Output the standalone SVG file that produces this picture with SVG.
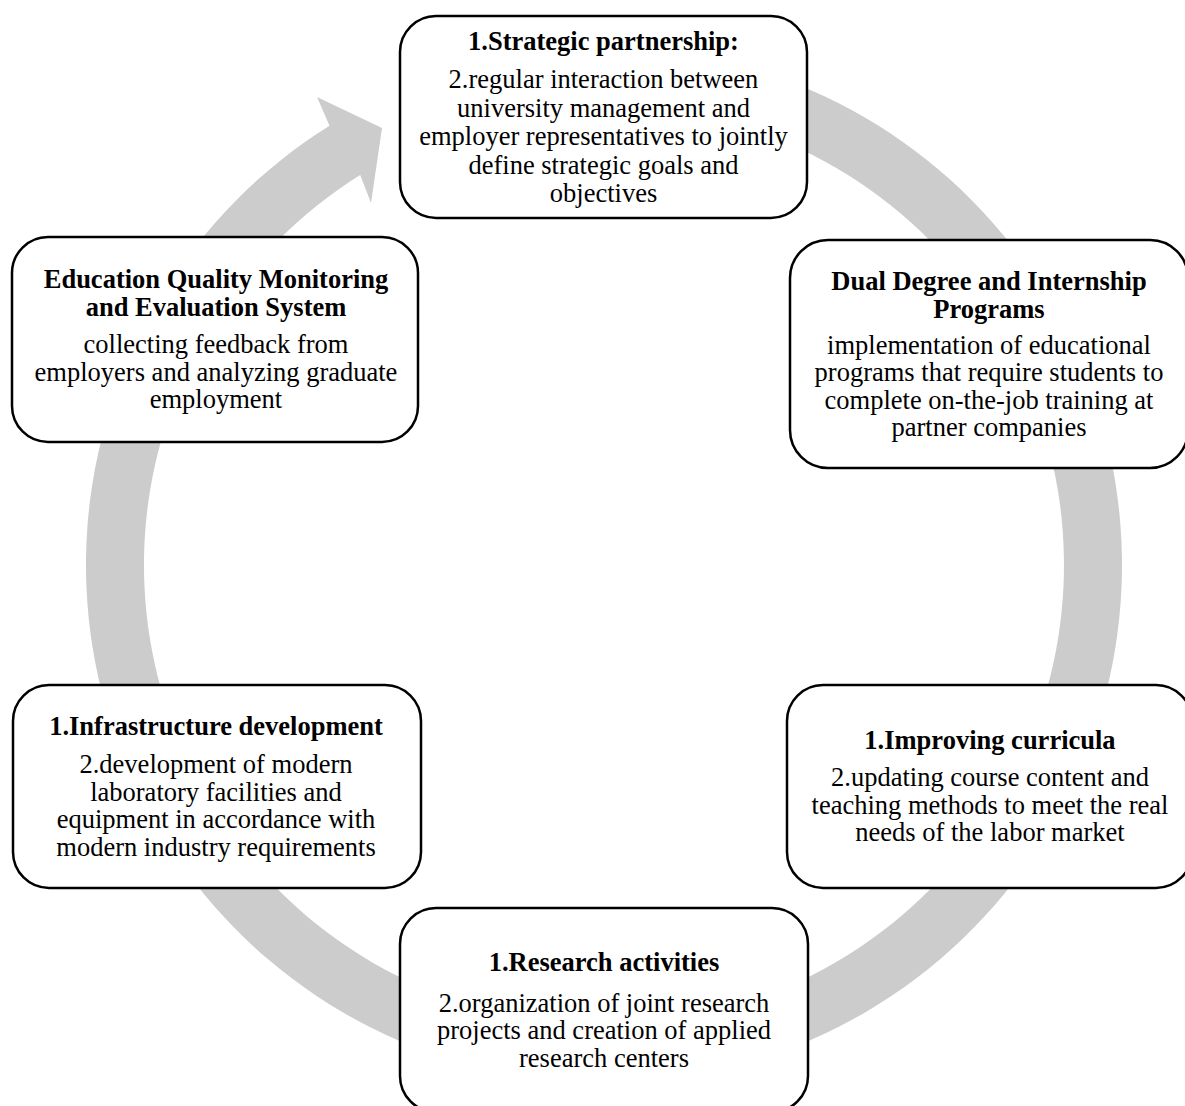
<svg xmlns="http://www.w3.org/2000/svg" width="1185" height="1106" viewBox="0 0 1185 1106">
  <style>
    .box { fill: #ffffff; stroke: #000000; stroke-width: 2.5; }
    .ring { fill: #cccccc; stroke: none; }
    text { font-family: "Liberation Serif", "Times New Roman", serif; font-size: 26.5px; fill: #000000; text-anchor: middle; }
    .title { font-weight: bold; }
  </style>
  <rect width="1185" height="1106" fill="#ffffff"/>

  <!-- circular flow arrow running clockwise behind the boxes -->
  <g id="connectors">
    <path class="ring" d="M 649.15 48.97 A 518 518 0 1 1 329.5 125.7 L 317 97 L 382 128 L 371 203 L 360.2 174.9 A 460 460 0 1 0 644.09 106.75 Z"/>
  </g>

  <g id="node-strategic">
    <rect class="box" x="400" y="16" width="407" height="202" rx="36" ry="36"/>
    <text class="title" x="603.5" y="50">1.Strategic partnership:</text>
    <text x="603.5" y="88">2.regular interaction between</text>
    <text x="603.5" y="116.5">university management and</text>
    <text x="603.5" y="145">employer representatives to jointly</text>
    <text x="603.5" y="173.5">define strategic goals and</text>
    <text x="603.5" y="202">objectives</text>
  </g>

  <g id="node-dual-degree">
    <rect class="box" x="790" y="240" width="398" height="228" rx="38" ry="38"/>
    <text class="title" x="989" y="290">Dual Degree and Internship</text>
    <text class="title" x="989" y="317.5">Programs</text>
    <text x="989" y="353.5">implementation of educational</text>
    <text x="989" y="381">programs that require students to</text>
    <text x="989" y="408.5">complete on-the-job training at</text>
    <text x="989" y="436">partner companies</text>
  </g>

  <g id="node-curricula">
    <rect class="box" x="787" y="685" width="405" height="203" rx="36" ry="36"/>
    <text class="title" x="990" y="749">1.Improving curricula</text>
    <text x="990" y="786">2.updating course content and</text>
    <text x="990" y="813.5">teaching methods to meet the real</text>
    <text x="990" y="841">needs of the labor market</text>
  </g>

  <g id="node-research">
    <rect class="box" x="400" y="908" width="408" height="204" rx="36" ry="36"/>
    <text class="title" x="604" y="971">1.Research activities</text>
    <text x="604" y="1011.5">2.organization of joint research</text>
    <text x="604" y="1039">projects and creation of applied</text>
    <text x="604" y="1066.5">research centers</text>
  </g>

  <g id="node-infrastructure">
    <rect class="box" x="13" y="685" width="408" height="203" rx="36" ry="36"/>
    <text class="title" x="216" y="735">1.Infrastructure development</text>
    <text x="216" y="773">2.development of modern</text>
    <text x="216" y="800.5">laboratory facilities and</text>
    <text x="216" y="828">equipment in accordance with</text>
    <text x="216" y="855.5">modern industry requirements</text>
  </g>

  <g id="node-quality">
    <rect class="box" x="12" y="237" width="406" height="205" rx="36" ry="36"/>
    <text class="title" x="216" y="288">Education Quality Monitoring</text>
    <text class="title" x="216" y="315.5">and Evaluation System</text>
    <text x="216" y="353">collecting feedback from</text>
    <text x="216" y="380.5">employers and analyzing graduate</text>
    <text x="216" y="408">employment</text>
  </g>
</svg>
